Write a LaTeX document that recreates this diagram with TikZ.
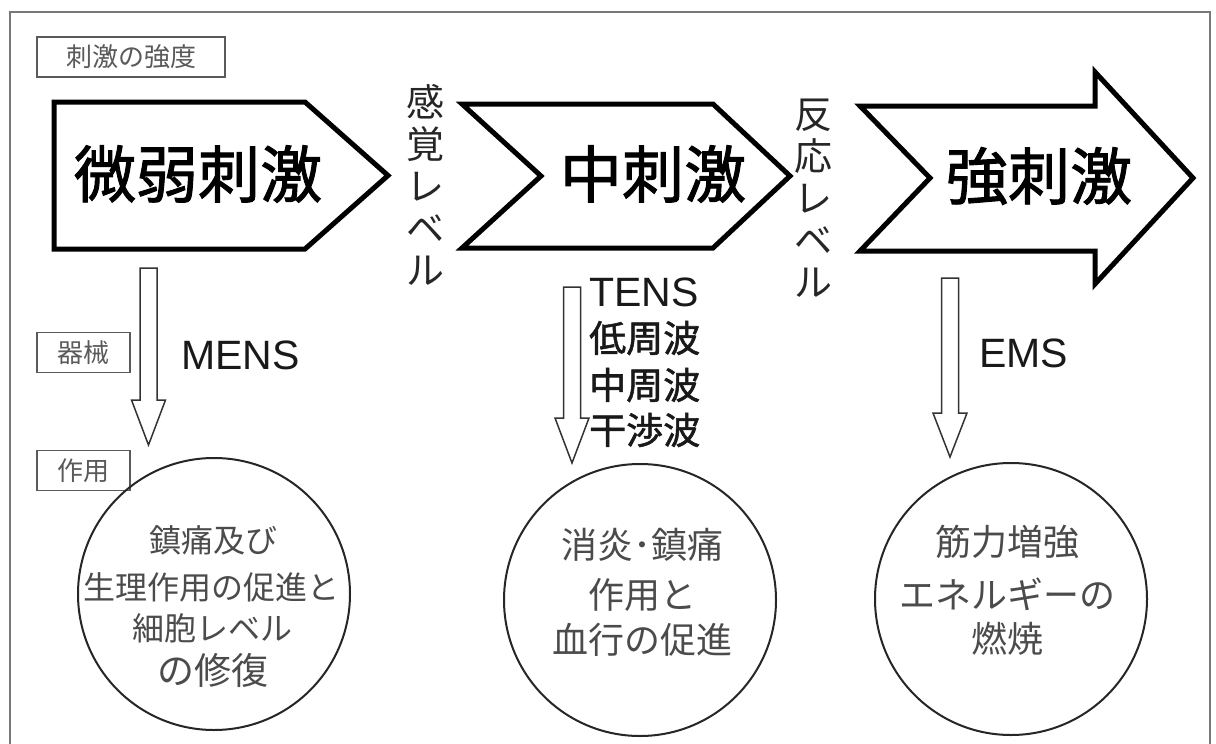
\documentclass[tikz,border=0pt]{standalone}
\usepackage{fontspec}
\newfontfamily\jp{Noto Sans CJK JP}
\newfontfamily\jpb[FakeBold=1.5]{Noto Sans CJK JP}
\newfontfamily\lat{Liberation Sans}
\definecolor{framec}{RGB}{120,120,120}
\definecolor{lblc}{RGB}{90,90,90}
\definecolor{txtc}{RGB}{75,75,75}
\tikzset{
  bigarrow/.style={draw=black, line width=5pt, fill=white, line join=miter},
  bigtxt/.style={font=\jpb\fontsize{62}{62}\selectfont, inner sep=0pt},
  vtxt/.style={font=\jp\fontsize{38}{42}\selectfont, align=center, text=black!85, inner sep=0pt},
  lbox/.style={draw=lblc, line width=1.5pt, text=lblc, font=\jp\fontsize{26}{26}\selectfont, minimum height=40pt, inner sep=0pt},
  hollow/.style={draw=black!80, line width=1.5pt, fill=white, line join=miter},
  circ/.style={circle, draw=black!85, line width=2pt, minimum size=272pt, inner sep=0pt},
  ctxt/.style={font=\jp\fontsize{32}{32}\selectfont, text=txtc, inner sep=0pt},
  ctxtb/.style={font=\jp\fontsize{36}{36}\selectfont, text=txtc, inner sep=0pt},
  latx/.style={font=\lat\fontsize{41}{41}\selectfont, text=black!90, inner sep=0pt, anchor=west},
  tensj/.style={font=\jpb\fontsize{37}{37}\selectfont, text=black!90, inner sep=0pt, anchor=west},
}
\newcommand\downarr[4]{%
  \draw[hollow] (#1-8.5,#2) -- (#1+8.5,#2) -- (#1+8.5,#3) -- (#1+17,#3) -- (#1,#4) -- (#1-17,#3) -- (#1-8.5,#3) -- cycle;}
\begin{document}
\begin{tikzpicture}[x=1pt,y=-1pt]
\useasboundingbox (0,0) rectangle (1216,744);
\fill[white] (0,0) rectangle (1216,744);
% frame
\draw[framec, line width=2.5pt] (10,748) -- (10,12) -- (1210,12) -- (1210,748);

% label boxes
\node[lbox, minimum width=188pt] (lstr) at (131,57) {刺激の強度};
\node[lbox, minimum width=93pt] (ldev) at (83.5,352.5) {器械};
\node[lbox, minimum width=93pt] (lact) at (83.5,470.5) {作用};

% big arrows
\draw[bigarrow] (54,102) -- (305,102) -- (388,175.5) -- (305,249) -- (54,249) -- cycle;
\draw[bigarrow] (462,104) -- (713,104) -- (790,176) -- (713,248) -- (462,248) -- (541,176) -- cycle;
\draw[bigarrow] (860,106) -- (1095,106) -- (1095,72) -- (1193,178) -- (1095,284) -- (1095,251) -- (860,251) -- (930,178) -- cycle;
\node[bigtxt] (weak) at (198,174) {微弱刺激};
\node[bigtxt] (mid) at (653,174) {中刺激};
\node[bigtxt] (strong) at (1039,176) {強刺激};

% vertical labels
\node[vtxt] (sense) at (425,185) {感\\覚\\レ\\ベ\\ル};
\node[vtxt] (react) at (813,198) {反\\応\\レ\\ベ\\ル};

% hollow down arrows
\downarr{148.5}{268}{400}{445}
\downarr{572}{287}{418}{463}
\downarr{950}{278}{413}{457}

% device labels
\node[latx] (mens) at (181,355) {MENS};
\node[latx] (tens) at (589,292) {TENS};
\node[tensj] (t1) at (589,338) {低周波};
\node[tensj] (t2) at (589,385) {中周波};
\node[tensj] (t3) at (589,430) {干渉波};
\node[latx] (ems) at (979,353) {EMS};

% circles
\node[circ] (c1) at (214,594) {};
\node[circ] (c2) at (640,600) {};
\node[circ] (c3) at (1011,599) {};

\node[ctxt] (c1a) at (213,540) {鎮痛及び};
\node[ctxt] (c1b) at (211,587) {生理作用の促進と};
\node[ctxt] (c1c) at (212,628) {細胞レベル};
\node[ctxt, font=\jp\fontsize{37}{37}\selectfont] (c1d) at (213,670) {の修復};

\node[ctxtb] (c2a) at (642,545) {消炎･鎮痛};
\node[ctxtb] (c2b) at (642,595) {作用と};
\node[ctxtb] (c2c) at (642,640) {血行の促進};

\node[ctxtb] (c3a) at (1007,542) {筋力増強};
\node[ctxtb] (c3b) at (1007,594) {エネルギーの};
\node[ctxtb] (c3c) at (1007,639) {燃焼};
\end{tikzpicture}
\end{document}
